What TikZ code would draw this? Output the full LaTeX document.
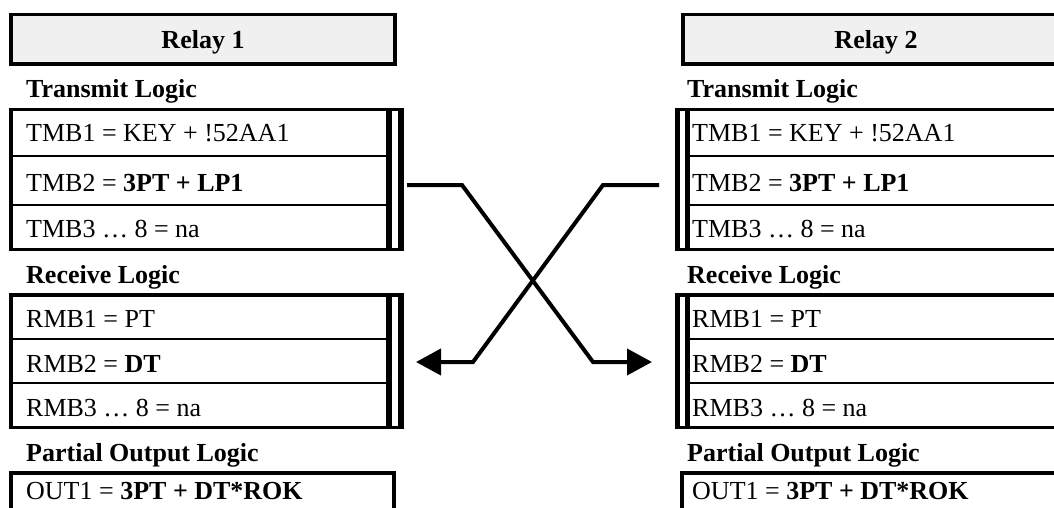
\documentclass[tikz,border=0pt]{standalone}
\usepackage{fontspec}
\setmainfont{Liberation Serif}
\usetikzlibrary{arrows.meta}
\definecolor{headgray}{HTML}{F0F0F0}
\tikzset{
  ink/.style={fill=black},
  relaybox/.style={draw=black, fill=headgray, line width=3.5pt},
  heading/.style={anchor=base, inner sep=0pt, font=\fontsize{26}{30}\selectfont\bfseries},
  section/.style={anchor=base west, inner sep=0pt, font=\fontsize{26}{30}\selectfont\bfseries},
  cell/.style={anchor=base west, inner sep=0pt, font=\fontsize{26}{30}\selectfont},
  wire/.style={line width=4pt},
  tip/.style={-{Triangle[length=25pt,width=26pt]}}
}
\begin{document}
\begin{tikzpicture}[x=1pt,y=-1pt]
\useasboundingbox (0,0) rectangle (1054,508);
\clip (0,0) rectangle (1054,508);

% ---------------- Relay 1 ----------------
\draw[relaybox] (11,14.5) rectangle (395,64);
\node[heading] (r1) at (203,49) {Relay 1};

\node[section] (r1tx) at (26,98) {Transmit Logic};
% transmit table frame, double rule on the right
\fill[ink] (9,108) rectangle (404,111.5);
\fill[ink] (9,247.5) rectangle (404,251);
\fill[ink] (9,108) rectangle (13,251);
\fill[ink] (386,108) rectangle (392,251);
\fill[ink] (398,108) rectangle (404,251);
\fill[ink] (13,155.25) rectangle (386,156.75);
\fill[ink] (13,204.25) rectangle (386,205.75);
\node[cell] (r1t1) at (26,142) {TMB1 = KEY + !52AA1};
\node[cell] (r1t2) at (26,191) {TMB2 = \textbf{3PT + LP1}};
\node[cell] (r1t3) at (26,237) {TMB3 … 8 = na};

\node[section] (r1rx) at (26,283) {Receive Logic};
% receive table frame
\fill[ink] (9,293) rectangle (404,296.5);
\fill[ink] (9,425.5) rectangle (404,429);
\fill[ink] (9,293) rectangle (13,429);
\fill[ink] (386,293) rectangle (392,429);
\fill[ink] (398,293) rectangle (404,429);
\fill[ink] (13,338.25) rectangle (386,339.75);
\fill[ink] (13,382.25) rectangle (386,383.75);
\node[cell] (r1r1) at (26,327) {RMB1 = PT};
\node[cell] (r1r2) at (26,372) {RMB2 = \textbf{DT}};
\node[cell] (r1r3) at (26,416) {RMB3 … 8 = na};

\node[section] (r1out) at (26,461) {Partial Output Logic};
\fill[ink] (9,471) rectangle (396,474.5);
\fill[ink] (9,471) rectangle (13,520);
\fill[ink] (392,471) rectangle (396,520);
\node[cell] (r1o1) at (26,499) {OUT1 = \textbf{3PT + DT*ROK}};

% ---------------- Relay 2 ----------------
\draw[relaybox] (683,14.5) rectangle (1080,64);
\node[heading] (r2) at (876,49) {Relay 2};

\node[section] (r2tx) at (687,98) {Transmit Logic};
% transmit table frame, double rule on the left
\fill[ink] (675,108) rectangle (1080,111.5);
\fill[ink] (675,247.5) rectangle (1080,251);
\fill[ink] (675,108) rectangle (680,251);
\fill[ink] (685,108) rectangle (690,251);
\fill[ink] (690,155.25) rectangle (1080,156.75);
\fill[ink] (690,204.25) rectangle (1080,205.75);
\node[cell] (r2t1) at (692,142) {TMB1 = KEY + !52AA1};
\node[cell] (r2t2) at (692,191) {TMB2 = \textbf{3PT + LP1}};
\node[cell] (r2t3) at (692,237) {TMB3 … 8 = na};

\node[section] (r2rx) at (687,283) {Receive Logic};
\fill[ink] (675,293) rectangle (1080,296.5);
\fill[ink] (675,425.5) rectangle (1080,429);
\fill[ink] (675,293) rectangle (680,429);
\fill[ink] (685,293) rectangle (690,429);
\fill[ink] (690,338.25) rectangle (1080,339.75);
\fill[ink] (690,382.25) rectangle (1080,383.75);
\node[cell] (r2r1) at (692,327) {RMB1 = PT};
\node[cell] (r2r2) at (692,372) {RMB2 = \textbf{DT}};
\node[cell] (r2r3) at (692,416) {RMB3 … 8 = na};

\node[section] (r2out) at (687,461) {Partial Output Logic};
\fill[ink] (680,471) rectangle (1080,474.5);
\fill[ink] (680,471) rectangle (684,520);
\node[cell] (r2o1) at (692,499) {OUT1 = \textbf{3PT + DT*ROK}};

% ---------------- crossed links ----------------
\coordinate (aL) at (407,185);
\coordinate (bL) at (462,185);
\coordinate (cL) at (593,362);
\coordinate (dL) at (652,362);
\coordinate (aR) at (659,185);
\coordinate (bR) at (603,185);
\coordinate (cR) at (473,362);
\coordinate (dR) at (416,362);
\draw[wire, tip] (aL) -- (bL) -- (cL) -- (dL);
\draw[wire, tip] (aR) -- (bR) -- (cR) -- (dR);
\end{tikzpicture}
\end{document}
